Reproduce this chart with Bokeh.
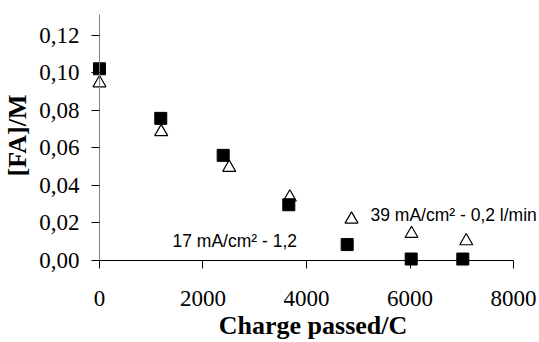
from bokeh.plotting import figure
from bokeh.models import Range1d, FixedTicker, CustomJSTickFormatter, Label, LinearAxis
from bokeh.embed import file_html
from bokeh.resources import INLINE

# Data
sq_x = [0, 1184, 2390, 3658, 4786, 6023, 7020]
sq_y = [0.1021, 0.0757, 0.0560, 0.0297, 0.0085, 0.0008, 0.0008]
tri_x = [0, 1192, 2506, 3677, 4870, 6029, 7086]
tri_y = [0.0945, 0.0685, 0.0495, 0.0337, 0.0219, 0.0143, 0.0104]
x_ticks = [0, 2000, 4000, 6000, 8000]
y_ticks = [0.0, 0.02, 0.04, 0.06, 0.08, 0.10, 0.12]
label1 = ("17 mA/cm\u00b2 - 1,2", 1411, 0.0102)
label2 = ("39 mA/cm\u00b2 - 0,2 l/min", 5237, 0.0244)

p = figure(width=539, height=342, output_backend="svg", toolbar_location=None,
           x_range=Range1d(-251, 8502), y_range=Range1d(-0.0053, 0.13846),
           min_border_left=86, min_border_right=0, min_border_top=0, min_border_bottom=71)
p.outline_line_color = None
p.grid.visible = False
p.background_fill_color = "white"
p.border_fill_color = "white"

serif = "Liberation Serif"
xfmt = CustomJSTickFormatter(code="return tick.toFixed(0);")
yfmt = CustomJSTickFormatter(code="return tick.toFixed(2).replace('.', ',');")

# label-only axes at the frame edges
xa = p.xaxis[0]
xa.ticker = FixedTicker(ticks=x_ticks)
xa.formatter = xfmt
xa.axis_line_color = None
xa.major_tick_line_color = None
xa.minor_tick_line_color = None
xa.major_label_text_font = serif
xa.major_label_text_font_size = "23px"
xa.major_label_text_color = "black"
xa.major_label_standoff = 14
xa.axis_label = "Charge passed/C"
xa.axis_label_text_font = serif
xa.axis_label_text_font_size = "26px"
xa.axis_label_text_font_style = "bold"
xa.axis_label_text_color = "black"
xa.axis_label_standoff = 2

ya = p.yaxis[0]
ya.ticker = FixedTicker(ticks=y_ticks)
ya.formatter = yfmt
ya.axis_line_color = None
ya.major_tick_line_color = None
ya.minor_tick_line_color = None
ya.major_label_text_font = serif
ya.major_label_text_font_size = "23px"
ya.major_label_text_color = "black"
ya.major_label_standoff = 1
ya.axis_label = "[FA]/M"
ya.axis_label_text_font = serif
ya.axis_label_text_font_size = "26px"
ya.axis_label_text_font_style = "bold"
ya.axis_label_text_color = "black"
ya.axis_label_standoff = 4

# line + tick axes crossing at the origin
xl = LinearAxis(fixed_location=0, bounds=(0, 8000), ticker=FixedTicker(ticks=x_ticks),
                formatter=xfmt, major_label_text_color=None,
                axis_line_color="black", major_tick_line_color="black",
                minor_tick_line_color=None, major_tick_in=0, major_tick_out=8)
yl = LinearAxis(fixed_location=0, bounds=(0, 0.131), ticker=FixedTicker(ticks=y_ticks),
                formatter=yfmt, major_label_text_color=None,
                axis_line_color="#808080", major_tick_line_color="black",
                minor_tick_line_color=None, major_tick_in=0, major_tick_out=8)
p.add_layout(xl, "below")
p.add_layout(yl, "left")

p.scatter(tri_x, tri_y, marker="triangle", size=13, fill_color="white",
          line_color="black", line_width=1.2)
p.scatter(sq_x, sq_y, marker="square", size=12, fill_color="black",
          line_color="black")

for txt, lx, ly in (label1, label2):
    p.add_layout(Label(x=lx, y=ly, text=txt, text_font="Liberation Sans",
                       text_font_size="17.5px", text_color="black",
                       text_align="left", text_baseline="alphabetic"))

open("out.html", "w").write(file_html(p, INLINE))
